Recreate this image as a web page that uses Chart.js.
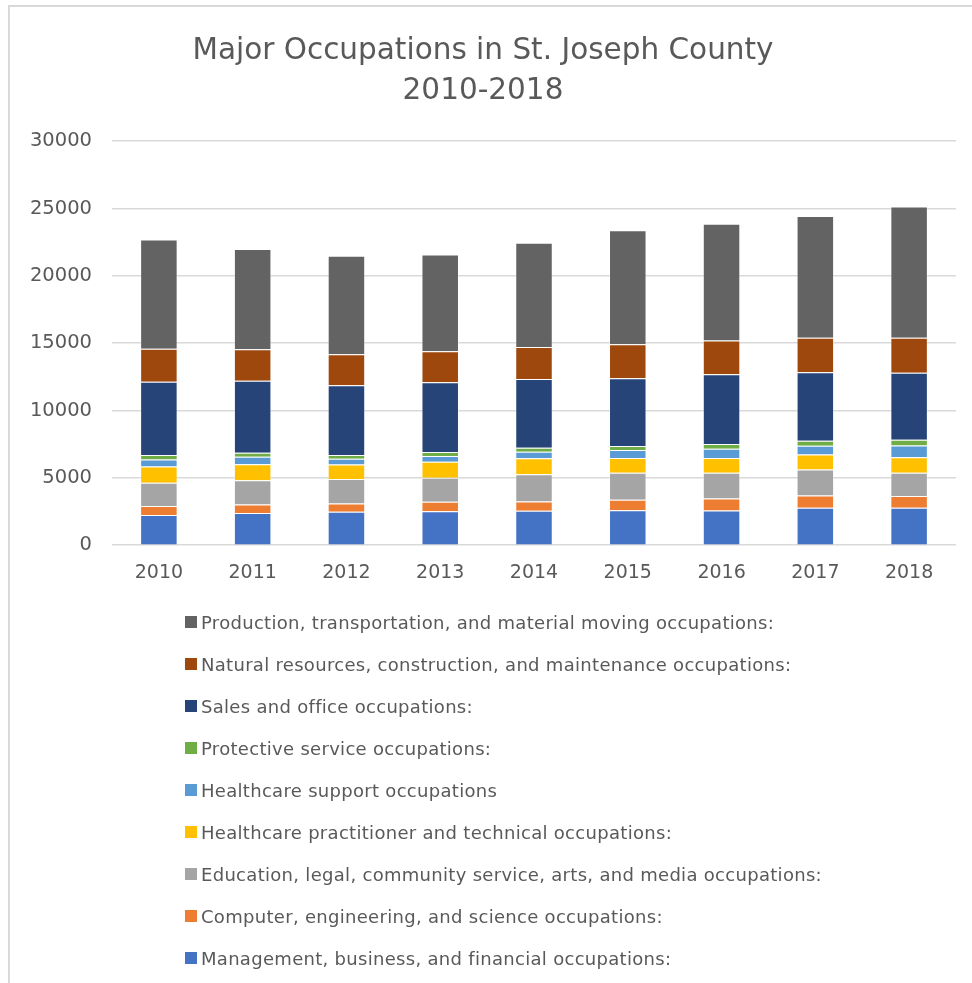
<!DOCTYPE html>
<html>
<head>
<meta charset="utf-8">
<script src="https://cdn.jsdelivr.net/npm/chart.js@4"></script>
<style>
    body { margin: 0; background: #fff; }
    #frame { position: absolute; left: 8px; top: 5px; width: 964px; height: 978px;
             border-left: 2px solid #d9d9d9; border-top: 2px solid #d9d9d9; }
    #chart { position: absolute; left: 0; top: 0; }
    #legend { position: absolute; left: 185px; top: 601px; font-family: "DejaVu Sans", sans-serif;
              font-size: 18px; letter-spacing: 0.3px; color: #595959; }
    .item { height: 42px; display: flex; align-items: center; }
    .box { width: 12px; height: 12px; margin-right: 4px; }
</style>
</head>
<body>
<div id="frame"></div>
<canvas id="chart" width="972" height="616"></canvas>
<div id="legend"></div>
<script>
const years = ['2010', '2011', '2012', '2013', '2014', '2015', '2016', '2017', '2018'];

const management = [2250, 2400, 2480, 2530, 2550, 2600, 2580, 2780, 2780];
const computer = [670, 620, 620, 690, 700, 770, 890, 920, 870];
const education = [1710, 1810, 1810, 1790, 2010, 2010, 1910, 1930, 1735];
const practitioner = [1220, 1190, 1090, 1190, 1190, 1090, 1090, 1115, 1140];
const support = [520, 545, 420, 420, 495, 595, 695, 645, 870];
const protective = [325, 300, 280, 300, 300, 300, 345, 370, 445];
const sales = [5450, 5355, 5180, 5180, 5090, 5030, 5190, 5085, 4960];
const natural = [2450, 2335, 2310, 2310, 2380, 2530, 2500, 2555, 2600];
const production = [8100, 7440, 7310, 7170, 7740, 8460, 8680, 9050, 9750];

const yTicks = [0, 5000, 10000, 15000, 20000, 25000, 30000];

const textColor = '#595959';
const font = '"DejaVu Sans", sans-serif';

const series = [
    ['Management, business, and financial occupations:', management, '#4472C4'],
    ['Computer, engineering, and science occupations:', computer, '#ED7D31'],
    ['Education, legal, community service, arts, and media occupations:', education, '#A5A5A5'],
    ['Healthcare practitioner and technical occupations:', practitioner, '#FFC000'],
    ['Healthcare support occupations', support, '#5B9BD5'],
    ['Protective service occupations:', protective, '#70AD47'],
    ['Sales and office occupations:', sales, '#264478'],
    ['Natural resources, construction, and maintenance occupations:', natural, '#9E480E'],
    ['Production, transportation, and material moving occupations:', production, '#636363']
];

const chart = new Chart(document.getElementById('chart'), {
    type: 'bar',
    data: {
        labels: years,
        datasets: series.map(s => ({
            label: s[0],
            data: s[1],
            backgroundColor: s[2],
            borderColor: 'rgba(255,255,255,0.35)',
            borderWidth: 1,
            categoryPercentage: 0.4,
            barPercentage: 1
        }))
    },
    options: {
        responsive: false,
        animation: false,
        layout: { padding: { left: 10, right: 16, top: 0, bottom: 24 } },
        plugins: {
            legend: { display: false },
            tooltip: { enabled: false },
            title: {
                display: true,
                text: ['Major Occupations in St. Joseph County', '2010-2018'],
                color: textColor,
                font: { family: font, size: 29.5, weight: 'normal', lineHeight: 1.36 },
                padding: { top: 31, bottom: 30 }
            }
        },
        scales: {
            x: {
                stacked: true,
                grid: { display: false },
                border: { display: false },
                ticks: { color: textColor, font: { family: font, size: 19 }, padding: 8 }
            },
            y: {
                stacked: true,
                min: 0,
                max: 30000,
                afterBuildTicks: s => { s.ticks = yTicks.map(v => ({ value: v })); },
                afterFit: s => { s.width = 102; },
                grid: { color: '#d9d9d9', lineWidth: 1.5, drawTicks: false },
                border: { display: false },
                ticks: { color: textColor, font: { family: font, size: 19.5 }, padding: 20,
                         callback: v => String(v) }
            }
        }
    }
});

// legend, same order as Excel (top of stack first)
const legend = document.getElementById('legend');
chart.data.datasets.slice().reverse().forEach(ds => {
    const row = document.createElement('div');
    row.className = 'item';
    row.innerHTML = '<span class="box" style="background:' + ds.backgroundColor + '"></span>' + ds.label;
    legend.appendChild(row);
});
</script>
</body>
</html>
